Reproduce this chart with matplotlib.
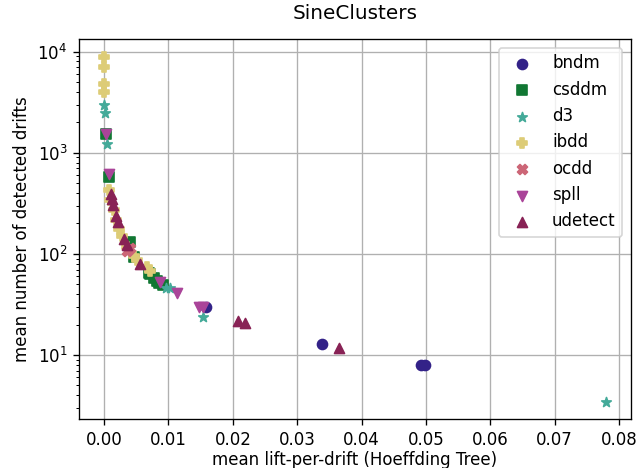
import matplotlib
matplotlib.use("Agg")
import matplotlib.pyplot as plt

# mean lift-per-drift (x) and mean number of detected drifts (y) per detector
bndm_x = [0.0158, 0.0338, 0.0493, 0.0499]
bndm_y = [30, 12.9, 7.9, 7.9]

csddm_x = [0.0003, 0.0008, 0.0040, 0.0047, 0.0070, 0.0072, 0.0078, 0.0083, 0.0085, 0.0092]
csddm_y = [1530, 580, 130, 94, 65, 63, 58, 54, 52, 49]

d3_x = [0.0000, 0.0001, 0.0004, 0.0096, 0.0103, 0.0153, 0.0779]
d3_y = [3000, 2500, 1210, 45.7, 46, 23.7, 3.45]

ibdd_x = [0.0000, 0.0000, 0.0000, 0.0000, 0.0008, 0.0010, 0.0015, 0.0018, 0.0023,
          0.0028, 0.0036, 0.0046, 0.0051, 0.0066, 0.0072]
ibdd_y = [8950, 7050, 4780, 3980, 430, 340, 270, 215, 177,
          151, 116, 96, 87, 75, 68]

ocdd_x = [0.0035, 0.0040]
ocdd_y = [108, 115]

spll_x = [0.0003, 0.0008, 0.0087, 0.0114, 0.0148, 0.0154]
spll_y = [1550, 611, 53, 41.4, 30, 30]

udetect_x = [0.0011, 0.0013, 0.0014, 0.0018, 0.0022, 0.0031, 0.0035, 0.0056,
             0.0208, 0.0219, 0.0365]
udetect_y = [392, 350, 308, 239, 205, 140, 123, 80,
             21.7, 20.7, 11.7]

series = [
    ("bndm", bndm_x, bndm_y, "#332288", "o"),
    ("csddm", csddm_x, csddm_y, "#117733", "s"),
    ("d3", d3_x, d3_y, "#44AA99", "*"),
    ("ibdd", ibdd_x, ibdd_y, "#DDCC77", "P"),
    ("ocdd", ocdd_x, ocdd_y, "#CC6677", "X"),
    ("spll", spll_x, spll_y, "#AA4499", "v"),
    ("udetect", udetect_x, udetect_y, "#882255", "^"),
]

fig, ax = plt.subplots(figsize=(638 / 120, 468 / 120), dpi=120)
for name, xs, ys, color, marker in series:
    ax.scatter(xs, ys, c=color, marker=marker, label=name)

ax.set_yscale("log")
ax.grid(True)
ax.set_axisbelow(True)
ax.set_title("SineClusters", pad=12)
ax.set_xlabel("mean lift-per-drift (Hoeffding Tree)", labelpad=1.5)
ax.set_ylabel("mean number of detected drifts")
ax.legend(loc="upper right")

plt.subplots_adjust(left=0.1238, right=0.9885, top=0.916, bottom=0.1047)
plt.savefig("out.png", dpi=120)
